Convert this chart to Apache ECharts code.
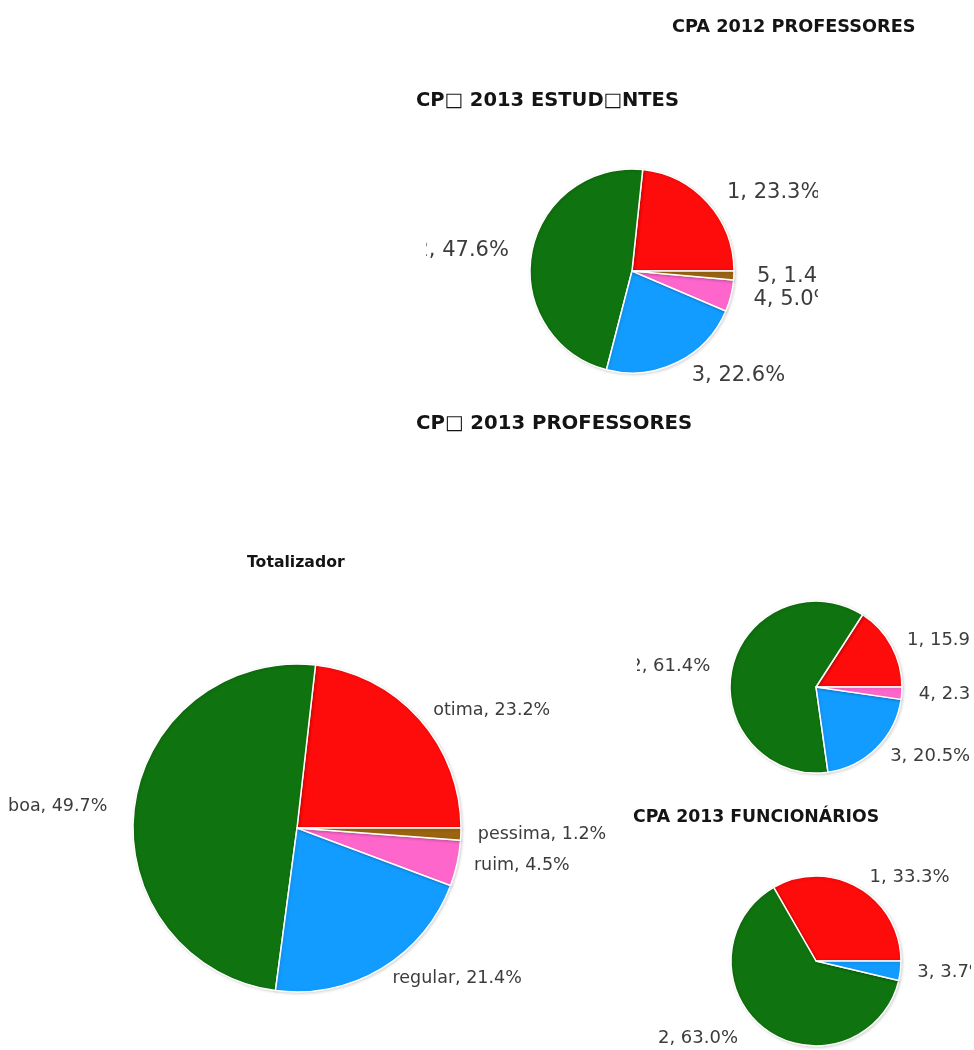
<!DOCTYPE html>
<html>
<head>
<meta charset="utf-8">
<title>CPA</title>
<script src="https://cdn.jsdelivr.net/npm/echarts@6/dist/echarts.min.js"></script>
<style>
  html, body { margin: 0; padding: 0; background: #ffffff; }
  #chart { width: 974px; height: 1050px; }
</style>
</head>
<body>
<div id="chart"></div>
<script>
// Survey results (percent of answers per rating)
const ratingCodes = ['1', '2', '3', '4', '5'];
const totalNames = ['otima', 'boa', 'regular', 'ruim', 'pessima'];

const estudantes2013 = [23.3, 47.6, 22.6, 5.0, 1.4];
const professores2013 = [15.9, 61.4, 20.5, 2.3];
const funcionarios2013 = [33.3, 63.0, 3.7];
const totalizador = [23.2, 49.7, 21.4, 4.5, 1.2];

const titles = {
  prof2012: 'CPA 2012 PROFESSORES',
  est2013: 'CP\u25A1 2013 ESTUD\u25A1NTES',
  prof2013: 'CP\u25A1 2013 PROFESSORES',
  total: 'Totalizador',
  func2013: 'CPA 2013 FUNCION\u00C1RIOS'
};

// rating colours: otima, boa, regular, ruim, pessima
const palette = ['#fe0b0b', '#0f730f', '#129cff', '#fe66cc', '#9a6410'];

const FONT = 'Verdana, "DejaVu Sans", sans-serif';

function makeData(names, values, extra) {
  return values.map((v, i) => {
    const item = { name: names[i], value: v, itemStyle: { color: palette[i] } };
    if (extra && extra[i]) Object.assign(item, extra[i]);
    return item;
  });
}

function pieSeries(name, center, radius, data, fontSize, len1, len2) {
  return {
    type: 'pie',
    name: name,
    center: center,
    radius: radius,
    startAngle: 0,
    clockwise: false,
    avoidLabelOverlap: false,
    data: data,
    itemStyle: {
      borderColor: '#ffffff',
      borderWidth: 1.5,
      shadowBlur: 3,
      shadowOffsetX: 1,
      shadowOffsetY: 1,
      shadowColor: 'rgba(0,0,0,0.15)'
    },
    label: {
      show: true,
      position: 'outside',
      color: '#3c3c3c',
      fontFamily: FONT,
      fontSize: fontSize,
      distanceToLabelLine: 5,
      formatter: p => p.name + ', ' + p.value.toFixed(1) + '%'
    },
    labelLine: { show: false, length: len1, length2: len2 },
    emphasis: { disabled: true }
  };
}

function title(text, left, top, size) {
  return {
    text: text,
    left: left,
    top: top,
    padding: 0,
    textStyle: { fontFamily: FONT, fontWeight: 'bold', fontSize: size, color: '#141414' }
  };
}

const chart = echarts.init(document.getElementById('chart'), null, { renderer: 'canvas' });

chart.setOption({
  animation: false,
  backgroundColor: '#ffffff',
  title: [
    title(titles.prof2012, 672, 18, 17.7),
    title(titles.est2013, 416, 91, 19.5),
    title(titles.prof2013, 416, 414, 19.7),
    title(titles.total, 247, 555, 15.7),
    title(titles.func2013, 633, 809, 17.3)
  ],
  series: [
    pieSeries('estudantes', [632, 271], 102,
      makeData(ratingCodes, estudantes2013), 21, 15, 3),
    pieSeries('professores', [816, 687], 86,
      makeData(ratingCodes, professores2013, [null, { labelLine: { length2: 5 } }]), 18, 12, 0),
    pieSeries('funcionarios', [816, 961], 85,
      makeData(ratingCodes, funcionarios2013, [null, { labelLine: { length2: 15 } }]), 18, 12, 0),
    pieSeries('totalizador', [297, 828], 164,
      makeData(totalNames, totalizador, [null, { labelLine: { length2: 10 } }]), 17.5, 12, 0)
  ],
  // panel edges: each panel is cut off at its own frame
  graphic: [
    { type: 'rect', z: 100, shape: { x: 0, y: 140, width: 426, height: 265 }, style: { fill: '#ffffff' } },
    { type: 'rect', z: 100, shape: { x: 818, y: 140, width: 156, height: 265 }, style: { fill: '#ffffff' } },
    { type: 'rect', z: 100, shape: { x: 600, y: 615, width: 37, height: 90 }, style: { fill: '#ffffff' } },
    { type: 'rect', z: 100, shape: { x: 971, y: 590, width: 3, height: 460 }, style: { fill: '#ffffff' } }
  ]
});
</script>
</body>
</html>
